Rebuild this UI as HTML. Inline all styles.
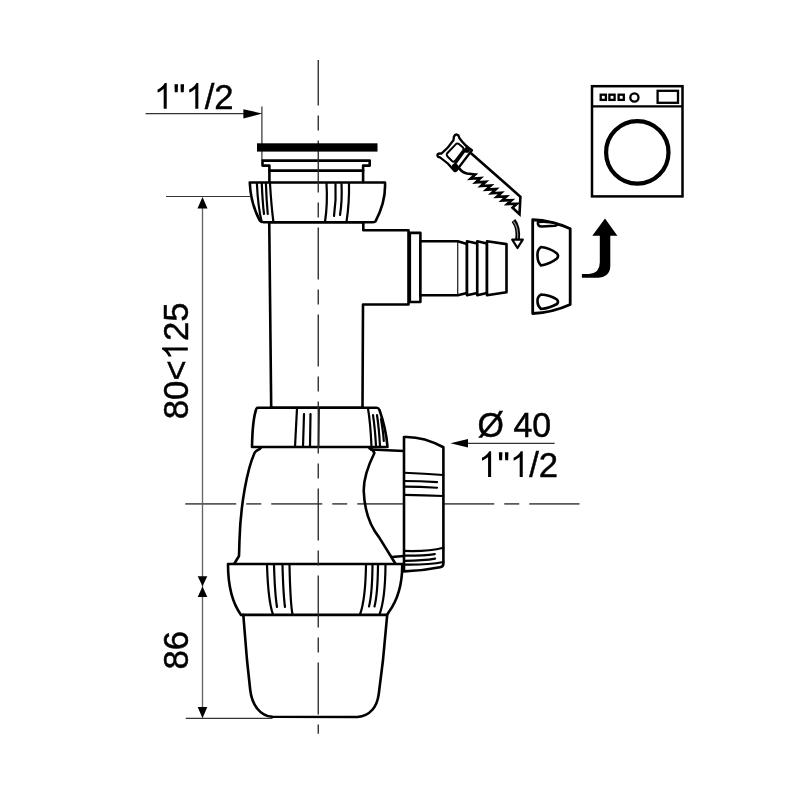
<!DOCTYPE html>
<html><head><meta charset="utf-8">
<style>
html,body{margin:0;padding:0;background:#fff;width:800px;height:800px;overflow:hidden}
svg{display:block;will-change:transform}
text{font-family:"Liberation Sans",sans-serif;fill:#000}
</style></head><body>
<svg width="800" height="800" viewBox="0 0 800 800">
<rect width="800" height="800" fill="#fff"/>
<!-- dimension lines -->
<g stroke="#333" stroke-width="1.2" fill="none">
  <line x1="145.5" y1="113.6" x2="250" y2="113.6"/>
  <line x1="261.9" y1="106.6" x2="261.9" y2="160"/>
  <line x1="166" y1="196.5" x2="250" y2="196.5"/>
  <line x1="202.5" y1="200" x2="202.5" y2="716" stroke="#666" stroke-width="1.35"/>
  <line x1="185.75" y1="718.4" x2="272.5" y2="718.4"/>
  <line x1="460" y1="443.3" x2="554.6" y2="443.3"/>
</g>
<g fill="#000" stroke="none">
  <polygon points="262.4,113.6 243.4,109.2 243.4,118.4"/>
  <polygon points="202.5,197 197.5,208.4 207.5,208.4"/>
  <polygon points="202.5,586.3 197.7,576.2 207.3,576.2"/>
  <polygon points="202.5,586.5 197.7,597 207.3,597"/>
  <polygon points="202.5,718.2 197.7,707 207.3,707"/>
  <polygon points="450.5,443.3 468,439 468,447.6"/>
</g>
<!-- horizontal centerline -->
<line x1="185.25" y1="503.85" x2="579.5" y2="503.85" stroke="#5a5a5a" stroke-width="1.6" stroke-dasharray="51 10 15 10"/>

<g stroke="#000" stroke-width="2.6" fill="#fff" stroke-linejoin="round" stroke-linecap="round">
  <!-- flange -->
  <path d="M269.4,182.5 L269.4,165.6 L262.5,165.6 L262.5,160.6 L369.7,160.6 L369.7,165.6 L363.1,165.6 L363.1,182.5"/>
  <path d="M269.4,170.6 L363.1,170.6" fill="none"/>
  <!-- tee body -->
  <path d="M269.25,222.3 L271.2,407.8 L362.5,407.8 L363,304.5 L408.5,304.5 L408.5,230.3 L363.3,230.3 L363.3,222.3 Z"/>
  <!-- outlet flange -->
  <rect x="409.8" y="232.9" width="10.6" height="69.1"/>
  <!-- hose tail -->
  <path d="M420.4,241.2 L457.75,241.2 L467,244.1 L467,293 L457.75,295.3 L420.4,295.3 Z"/>
  <path d="M467,241.2 L477.25,243.5 L477.25,293 L467,295.3 Z"/>
  <path d="M477.25,241.2 L487,243.5 L487,293 L477.25,295.3 Z"/>
  <path d="M487,241.2 L506.5,244.1 L506.5,292.2 L487,295.3 Z"/>
  <line x1="457.75" y1="241.5" x2="457.75" y2="295" stroke-width="1.1"/>
  <!-- top nut -->
  <path d="M249.75,182.5 L385,182.5 C385.8,198 381,211 375.5,221.3 Q374.5,222.3 372,222.3 L264,222.3 Q261,222.3 259.8,220.5 C254,210 250.5,198 249.75,182.5 Z"/>
  <g fill="none" stroke-width="2.2">
    <path d="M256.9,183.5 C257.5,197 259,211 261.75,222"/>
    <path d="M261.75,183.5 C262.3,196 263,206 264,214"/>
    <path d="M265.9,183.5 C266.3,196 267,206 267.75,214"/>
    <path d="M270,183.5 C270.8,197 272,211 273.4,222"/>
    <path d="M326.5,183.5 C327.3,196 326.8,210 325,222"/>
    <path d="M335.5,184 C336.1,196 335.5,206 334,216"/>
    <path d="M341.5,184 C342.1,196 341.5,206 340,215"/>
    <path d="M349,183.5 C349.3,196 348.3,210 346.5,222"/>
  </g>
  <!-- bowl body -->
  <path d="M261,447.5 C259,450.5 256,450 254.5,453 C247,470 240.5,505 239.5,540 L239,556 L235,562.5 L234,564" fill="none"/>
  <path d="M369.5,448.3 Q373,449.5 374.4,453 C367,468 363.2,480 363.8,492 C364.5,510 370,526 379.3,537.6 L395,563" fill="none"/>
  <path d="M371,449.5 L404,451" fill="none"/>
  <path d="M392,557 L404,556" fill="none"/>
  <!-- middle nut -->
  <path d="M257.5,407.8 L376.5,407.8 Q378.5,407.8 379.5,410 C383,420 386.5,434 387.5,447 L252,447 C252.3,430 253.5,418 255.8,410.5 Q256.5,407.8 257.5,407.8 Z"/>
  <g fill="none" stroke-width="2.2">
    <path d="M297,408.5 L295,446.7"/>
    <path d="M304,414 L303,446.7"/>
    <path d="M310.5,414 L310,446.7"/>
    <path d="M319,408.5 L318.6,446.7" stroke-width="1.7"/>
    <path d="M368,408.5 C370,420 371,435 371.5,447"/>
    <path d="M373,415 C374.5,425 375.5,437 376,446"/>
    <path d="M377,415 C378.5,425 379.5,437 380,446"/>
    <path d="M381,419 C382.5,428 383.5,436 383.8,441"/>
  </g>
  <!-- side nut -->
  <path d="M404,437 C415,436.5 430,440 443.4,447.25 L443.4,563.5 Q443.4,566.8 440,567.3 Q422,571 404,571.4 Z"/>
  <g fill="none" stroke-width="2.2">
    <path d="M404,472.75 Q425,473.5 443.25,475"/>
    <path d="M404,481 Q420,481 437,482.2"/>
    <path d="M404,486.7 Q420,486.8 437,487.75"/>
    <path d="M404,494.8 Q425,495.2 443.25,496"/>
    <path d="M404,550.9 Q428,551.8 443.4,547.7"/>
    <path d="M404,555.7 Q424,555.8 434.8,554.1"/>
    <path d="M404,560.9 Q424,560.6 435.1,558.6"/>
    <path d="M404,564.6 Q428,565 443.4,562"/>
  </g>
  <!-- bottom nut -->
  <path d="M228,564 L402.2,564 C402.5,582 399,598 388.5,612.5 Q387.5,614.9 385.5,614.9 L241,614.9 C231,601 228,583 228,564 Z"/>
  <g fill="none" stroke-width="2.2">
    <path d="M267,565 C267.8,590 269.5,605 273,614.5"/>
    <path d="M274,565 C274.6,585 275.5,598 277,607"/>
    <path d="M282.5,565 C283,585 283.8,598 285,607"/>
    <path d="M289.5,565 C290,590 290.8,605 292.5,614.5"/>
    <path d="M366,565 C365.6,590 363.5,605 360,614.5"/>
    <path d="M372.5,565 C372.3,585 371.2,598 369,606.5"/>
    <path d="M378,565 C377.8,585 376.7,598 374.5,606.5"/>
    <path d="M385.5,565 C385.3,590 383,605 379.5,614.5"/>
  </g>
  <!-- cup -->
  <path d="M243.3,614.9 L247,660 L250.2,689.75 C252,705 260,716 272.5,716.8 L357.5,717 C370,716 377,707 378.75,694 L383,660 L387.2,614.9" fill="none"/>
</g>
<!-- vertical centerline -->
<line x1="318.25" y1="60" x2="318.25" y2="733.75" stroke="#2a2a2a" stroke-width="1.35" stroke-dasharray="52 10 15 10" stroke-dashoffset="6.4"/>
<!-- black bar -->
<rect x="257" y="143.3" width="120.5" height="8.3" fill="#000"/>

<!-- texts -->
<g fill="#000" stroke="#000" stroke-width="0.45">
<text transform="translate(153.80,108.75) scale(1,1.030)" font-size="34.7"><tspan fill="transparent" stroke="none">1</tspan><tspan fill="transparent" stroke="none">"</tspan><tspan fill="transparent" stroke="none">1</tspan>/2</text>
<path transform="translate(153.80,108.75) scale(0.01694,-0.01745)" d="M763,0 H583 V1147 Q518,1085 412.5,1023 Q307,961 223,930 V1104 Q374,1175 487,1276 Q600,1377 647,1472 H763 Z"/>
<path transform="translate(173.10,108.75) scale(0.01694,-0.01745)" d="M80,1409 H290 L272,950 H98 Z M437,1409 H647 L629,950 H455 Z"/>
<path transform="translate(185.42,108.75) scale(0.01694,-0.01745)" d="M763,0 H583 V1147 Q518,1085 412.5,1023 Q307,961 223,930 V1104 Q374,1175 487,1276 Q600,1377 647,1472 H763 Z"/>
<text transform="translate(478.20,476.90) scale(1,1.030)" font-size="34.7"><tspan fill="transparent" stroke="none">1</tspan><tspan fill="transparent" stroke="none">"</tspan><tspan fill="transparent" stroke="none">1</tspan>/2</text>
<path transform="translate(478.20,476.90) scale(0.01694,-0.01745)" d="M763,0 H583 V1147 Q518,1085 412.5,1023 Q307,961 223,930 V1104 Q374,1175 487,1276 Q600,1377 647,1472 H763 Z"/>
<path transform="translate(497.50,476.90) scale(0.01694,-0.01745)" d="M80,1409 H290 L272,950 H98 Z M437,1409 H647 L629,950 H455 Z"/>
<path transform="translate(509.82,476.90) scale(0.01694,-0.01745)" d="M763,0 H583 V1147 Q518,1085 412.5,1023 Q307,961 223,930 V1104 Q374,1175 487,1276 Q600,1377 647,1472 H763 Z"/>
<text transform="translate(477.6,436.9) scale(1,1.05)" font-size="33.9">Ø 40</text>
<text transform="translate(187.80,419.20) rotate(-90) scale(1,1.030)" font-size="34.7">80&lt;<tspan fill="transparent" stroke="none">1</tspan>25</text>
<path transform="translate(187.80,360.34) rotate(-90) scale(0.01694,-0.01745)" d="M763,0 H583 V1147 Q518,1085 412.5,1023 Q307,961 223,930 V1104 Q374,1175 487,1276 Q600,1377 647,1472 H763 Z"/>
<text transform="translate(187.70,669.50) rotate(-90) scale(1,1.030)" font-size="34.7">86</text>
</g>

<!-- saw -->
<g stroke="#000" stroke-width="2.6" fill="none" stroke-linejoin="miter" stroke-miterlimit="6" stroke-linecap="butt">
  <path d="M458.9,168 Q462,172.5 467,173.5 L475.30,174.40 L470.50,178.80 L480.50,178.07 L475.75,182.41 L485.70,181.74 L481.00,186.02 L490.90,185.41 L486.25,189.63 L496.10,189.08 L491.50,193.24 L501.30,192.75 L496.75,196.85 L506.50,196.42 L502.00,200.46 L511.70,200.09 L507.25,204.07 L516.90,203.76 L512.50,207.68 L519.5,214.25 L520.4,196.75 L470.75,153"/>
</g>
<g stroke="#000" stroke-width="2.3" fill="none" stroke-linejoin="round" stroke-linecap="round">
  <path d="M441.4,153.6 Q448.5,148 453.5,140.2 L453.9,136.75 Q455,134 457,134.6 Q458.8,135 459.3,138 Q464.5,145.5 472,150.2 L456.4,170.5 Q455.4,171.6 454.4,170.8 Q448.2,162.8 440,157.4 L438.1,156.8 Q437,155.5 437.6,154.1 Q439,153.2 441.4,153.6 Z" fill="#fff"/>
  <path d="M465.75,149.25 L453.9,165.5"/>
  <path d="M456.4,143.6 Q458,143 459.5,144.5 L463,147.5 Q464,149 463,150.5 L455,161 Q453.6,162.5 452,161 L447.5,156.5 Q446,155 447,153.5 Z" stroke-width="2"/>
  <circle cx="467" cy="149.9" r="1.8" fill="#000"/>
  <circle cx="455.1" cy="167" r="2.2" fill="#000"/>
</g>
<!-- curved hollow arrow -->
<g stroke-linecap="butt">
  <path d="M513.5,220.5 C517,225 518.5,232 517.5,240" stroke="#000" stroke-width="4.6" fill="none"/>
  <path d="M513.5,221.5 C517,225.5 518.3,232 517.5,240" stroke="#888" stroke-width="1.2" fill="none"/>
  <polygon points="517.5,248 512.2,239.6 522.8,239.6" fill="#fff" stroke="#000" stroke-width="2.2" stroke-linejoin="round"/>
</g>
<!-- cap -->
<g stroke="#000" stroke-width="2.8" fill="#fff" stroke-linejoin="round">
  <path d="M532.7,219.75 Q552,220.5 570.2,228.75 L570.2,304.5 Q552,312.75 532.7,313.5 Z"/>
  <path d="M538,222 Q537,226.5 542,226.5 L555,225.8 Q559,225 556,223.3 Q547,221 538,222 Z" stroke-width="2.6"/>
  <path d="M541,247 Q537,250 537.5,256 Q537.5,262 541,265.5 Q550,264 557,258.5 Q559,256 557,253.5 Q550,248 541,247 Z" stroke-width="2.6"/>
  <path d="M541,294.5 Q537,297 537.5,301.5 Q537.5,306 541,309 Q550,308 557,304 Q559,302 557,299.5 Q550,295 541,294.5 Z" stroke-width="2.6"/>
</g>
<!-- bold J arrow -->
<path d="M592.3,235.8 L605,218.4 L617.4,235.8 L610.3,235.8 L610.3,266 Q610.2,272 606.5,275 Q603,277.6 598.5,277.7 L581.9,277.7 L581.9,274.1 L589,274 Q599.8,273.2 599.8,262.5 L599.8,235.8 Z" fill="#000"/>
<!-- washing machine -->
<g stroke="#000" fill="none">
  <rect x="592" y="86.2" width="90.5" height="110.2" stroke-width="2.5"/>
  <line x1="592" y1="106.4" x2="682.5" y2="106.4" stroke-width="2.4"/>
  <rect x="600.7" y="94.7" width="5.2" height="5.2" stroke-width="2.3"/>
  <rect x="609.4" y="94.7" width="5.2" height="5.2" stroke-width="2.3"/>
  <rect x="618.6" y="94.7" width="5.2" height="5.2" stroke-width="2.3"/>
  <circle cx="634.4" cy="97.5" r="4.1" stroke-width="2.3"/>
  <rect x="657.6" y="90.8" width="20.4" height="12" stroke-width="2.3"/>
  <circle cx="637.3" cy="152.4" r="31.2" stroke-width="4.2"/>
</g>
</svg>
</body></html>
